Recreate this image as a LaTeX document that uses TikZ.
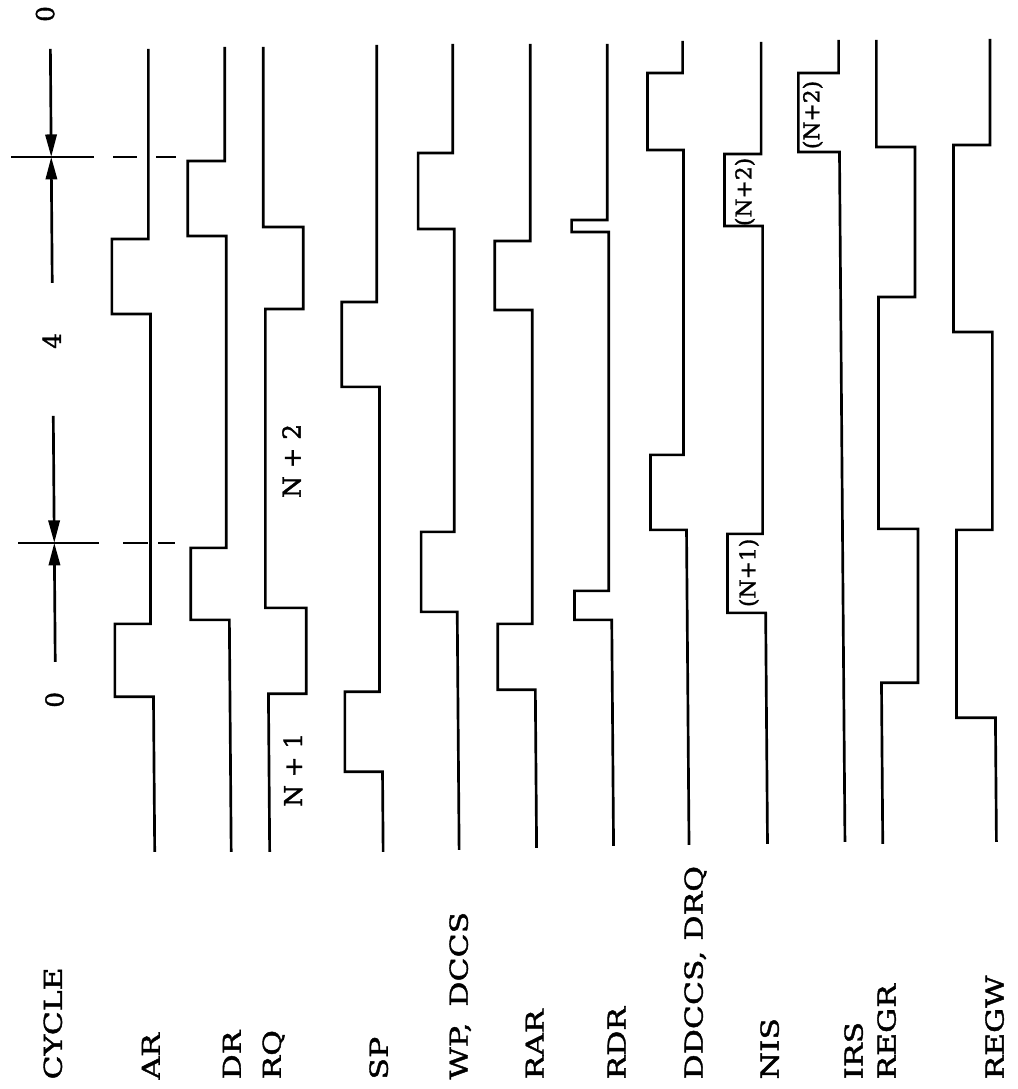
\documentclass[tikz,border=0pt]{standalone}
\usepackage{fontspec}
\usepackage{graphicx}
\newfontfamily\sigfont[FakeBold=1.4]{DejaVu Serif}
\newcommand{\signame}[1]{\scalebox{1.27}[1]{#1}}
\usetikzlibrary{arrows.meta}

\begin{document}
\begin{tikzpicture}[x=0.025cm, y={(0.0002cm,-0.025cm)},
    wave/.style={line width=1.9pt, line join=miter},
    sig/.style={rotate=90, anchor=base west, inner sep=0pt, font=\sigfont\fontsize{17.6}{20}\selectfont},
    cyc/.style={rotate=90, inner sep=0pt, font=\sigfont\fontsize{17.6}{20}\selectfont},
    pulselbl/.style={rotate=90, inner sep=0pt, font=\sigfont\fontsize{15.5}{18}\selectfont},
    tipdown/.style={-{Triangle[length=16pt,width=8pt]}}]

    \useasboundingbox (0cm,0cm) rectangle (25.425cm,-27.225cm);

    % cycle counter
    \node[cyc] (c0a) at (45,14) {0};
    \node[cyc] (c4) at (49,341) {4};
    \node[cyc] (c0b) at (49,700) {0};

    % first cycle mark
    \coordinate (m1top) at (50,49);
    \coordinate (m1) at (50,157);
    \coordinate (m1bot) at (50,283);
    \draw[wave,tipdown] (m1top) to (m1);
    \draw[wave,tipdown] (m1bot) to (m1);
    \draw[wave] (10,157) -- (93,157);
    \draw[wave] (112,157) -- (136,157);
    \draw[wave] (155,157) -- (175,157);

    % second cycle mark
    \coordinate (m2top) at (50,416);
    \coordinate (m2) at (50,543);
    \coordinate (m2bot) at (50,662);
    \draw[wave,tipdown] (m2top) to (m2);
    \draw[wave,tipdown] (m2bot) to (m2);
    \draw[wave] (14,543) -- (95,543);
    \draw[wave] (119,543) -- (144,543);
    \draw[wave] (154,543) -- (171,543);

    %%%%%%%%%%%%%%%%%%%%%%%%%%%%%%%%%%%%%%%%%%%%%%%%%%%%%%

    % AR
    \draw[wave] (148,49) |- (110,239) |- (148,314) |- (110,624) |- (148,697) -- (148,852);

    % DR
    \draw[wave] (224.5,47) |- (186.5,161) |- (224.5,236) |- (186.5,548) |- (224.5,620) -- (224.5,852);

    % RQ, pulses to the other side
    \draw[wave] (263,47) |- (301.5,227) |- (263,309) |- (301.5,608) |- (263,694) -- (263,852);
    \node[cyc] (n2) at (288,461) {N + 2};
    \node[cyc] (n1) at (287,770) {N + 1};

    % SP
    \draw[wave] (376.5,45) |- (339.5,302) |- (376.5,387) |- (339.5,692) |- (376.5,772) -- (376.5,852);

    % WP, DCCS
    \draw[wave] (452.5,44) |- (417,153) |- (452.5,229) |- (417,532) |- (452.5,612) -- (452.5,850);

    % RAR
    \draw[wave] (530,44) |- (493,241) |- (530,310) |- (493,624) |- (530,690) -- (530,848);

    % RDR
    \draw[wave] (607,44) |- (570,220) |- (607,232) |- (570,591) |- (607,620) -- (607,846);

    %%%%%%%%%%%%%%%%%%%%%%%%%%%%%%%%%%%%%%%%%%%%%%%%%%%%%%

    % DDCCS, DRQ
    \draw[wave] (682.5,41) |- (647,73) |- (682.5,150) |- (647,455) |- (682.5,530) -- (682.5,845);

    % NIS
    \draw[wave] (761,42) |- (723.5,154) |- (761,226) |- (723.5,534) |- (761,613) -- (761,844);
    \node[pulselbl] (nis2) at (743.5,192) {(N+2)};
    \node[pulselbl] (nis1) at (744.5,573) {(N+1)};

    % IRS
    \draw[wave] (838.5,40) |- (798,73) |- (838.5,152) -- (838.5,842);
    \node[pulselbl] (irs2) at (812,115) {(N+2)};

    % REGR, held high
    \draw[wave] (876.3,40) |- (914,147) |- (876.3,297) |- (914,529) |- (876.3,683) -- (876.3,844);

    % REGW
    \draw[wave] (990,39) |- (952.5,145) |- (990,332) |- (952.5,530) |- (990,718) -- (990,842);

    %%%%%%%%%%%%%%%%%%%%%%%%%%%%%%%%%%%%%%%%%%%%%%%%%%%%%%

    % signal names
    \node[sig] (lcyc) at (53.3,1080) {\signame{CYCLE}};
    \node[sig] (lar) at (151.3,1080) {\signame{AR}};
    \node[sig] (ldr) at (232.3,1080) {\signame{DR}};
    \node[sig] (lrq) at (272.3,1080) {\signame{RQ}};
    \node[sig] (lsp) at (379.3,1080) {\signame{SP}};
    \node[sig] (lwp) at (459.3,1080) {\signame{WP,\hspace{0.5em}DCCS}};
    \node[sig] (lrar) at (535.3,1080) {\signame{RAR}};
    \node[sig] (lrdr) at (617.3,1080) {\signame{RDR}};
    \node[sig] (lddc) at (694.3,1080) {\signame{DDCCS, DRQ}};
    \node[sig] (lnis) at (770.3,1080) {\signame{NIS}};
    \node[sig] (lirs) at (854.3,1080) {\signame{IRS}};
    \node[sig] (lregr) at (887.3,1080) {\signame{REGR}};
    \node[sig] (lregw) at (995.3,1080) {\signame{REGW}};

\end{tikzpicture}
\end{document}
